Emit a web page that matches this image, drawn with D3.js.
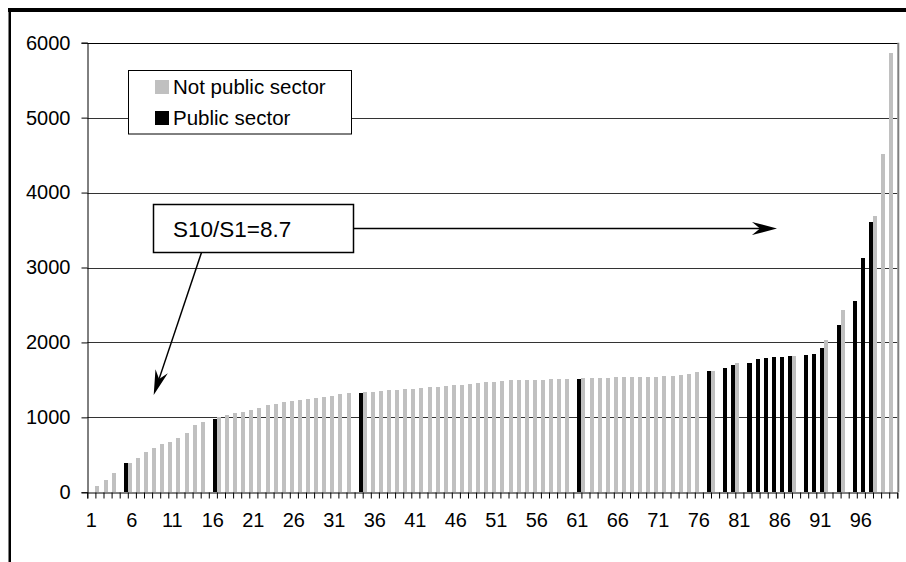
<!DOCTYPE html>
<html><head><meta charset="utf-8">
<script src="https://cdn.jsdelivr.net/npm/d3@7"></script>
<style>body{margin:0;background:#fff}svg{display:block}text{font-family:"Liberation Sans",Arial,Helvetica,sans-serif;fill:#000}</style>
</head><body><svg id="c" width="906" height="562"></svg>
<script>
// ---- data ----
const values = [
  0, 84, 164, 262, 391, 391, 458, 538, 591, 644,
  671, 724, 791, 898, 938, 978, 1000, 1031, 1062, 1076,
  1098, 1124, 1164, 1182, 1204, 1217, 1231, 1244, 1257, 1271,
  1288, 1311, 1324, 1324, 1333, 1337, 1351, 1364, 1364, 1377,
  1377, 1391, 1404, 1404, 1417, 1431, 1431, 1444, 1457, 1471,
  1471, 1484, 1498, 1498, 1498, 1498, 1505, 1511, 1511, 1511,
  1511, 1524, 1524, 1524, 1524, 1538, 1538, 1538, 1538, 1538,
  1538, 1551, 1551, 1564, 1577, 1604, 1618, 1618, 1658, 1698,
  1724, 1724, 1778, 1791, 1804, 1804, 1818, 1818, 1831, 1844,
  1924, 2036, 2231, 2431, 2551, 3124, 3608, 3688, 4511, 5861
];
const publicCats = [5, 16, 34, 61, 77, 79, 80, 82, 83, 84, 85, 86, 87, 89, 90, 91, 93, 95, 96, 97];
const categories = values.map((v, i) => i + 1);
const xTickLabels = [1, 6, 11, 16, 21, 26, 31, 36, 41, 46, 51, 56, 61, 66, 71, 76, 81, 86, 91, 96];
const yTicks = [0, 1000, 2000, 3000, 4000, 5000, 6000];
const seriesNames = ["Not public sector", "Public sector"];
const seriesColors = ["#c0c0c0", "#000000"];
const annotationText = "S10/S1=8.7";

const notPublic = values.map((v, i) => publicCats.includes(i + 1) ? null : v);
const publicSector = values.map((v, i) => publicCats.includes(i + 1) ? v : null);
const series = [notPublic, publicSector];

// ---- layout ----
const L = 87.3, R = 897.3, T = 42.7, B = 492.3;
const svg = d3.select("#c");

const x = d3.scaleBand().domain(categories).range([L, R]).padding(0);
const sub = d3.scaleBand().domain([0, 1]).range([0, x.bandwidth()]).padding(0);
const xb = d3.scaleLinear().domain([0, categories.length]).range([L, R]);
const y = d3.scaleLinear().domain([0, 6000]).range([B, T]);

// gridlines
svg.append("g").selectAll("line").data(yTicks.filter(d => d > 0 && d < 6000)).join("line")
  .attr("x1", L).attr("x2", R).attr("y1", d => Math.round(y(d)) + 0.5).attr("y2", d => Math.round(y(d)) + 0.5)
  .attr("stroke", "#333").attr("stroke-width", 1);

// bars
series.forEach((s, si) => {
  svg.append("g").selectAll("rect")
    .data(s.map((v, i) => ({ c: categories[i], v })).filter(d => d.v !== null && d.v > 0))
    .join("rect")
    .attr("x", d => x(d.c) + sub(si))
    .attr("width", sub.bandwidth())
    .attr("y", d => y(d.v))
    .attr("height", d => y(0) - y(d.v))
    .attr("fill", seriesColors[si])
    .attr("shape-rendering", "crispEdges");
});

// plot border (top + right)
svg.append("line").attr("x1", L).attr("x2", R + 1).attr("y1", Math.round(T) + 0.5).attr("y2", Math.round(T) + 0.5)
  .attr("stroke", "#000").attr("stroke-width", 1);
svg.append("line").attr("x1", R + 1).attr("x2", R + 1).attr("y1", T).attr("y2", B)
  .attr("stroke", "#808080").attr("stroke-width", 2);

// y axis
const yAxis = svg.append("g").attr("transform", `translate(${Math.round(L) + 0.5},0)`)
  .call(d3.axisLeft(y).tickValues(yTicks).tickSize(6).tickPadding(11).tickFormat(d3.format("d")));
yAxis.select(".domain").attr("stroke", "#000");
yAxis.selectAll(".tick line").attr("stroke", "#000");
yAxis.selectAll("text").attr("font-size", 20).attr("font-family", "Liberation Sans, Arial, sans-serif").attr("fill", "#000");

// x axis: ticks at category boundaries
const xAxisTicks = svg.append("g").attr("transform", `translate(0,${Math.round(B) + 0.5})`)
  .call(d3.axisBottom(xb).tickValues(d3.range(0, categories.length + 1)).tickSize(6).tickFormat(""));
xAxisTicks.select(".domain").attr("stroke", "#000");
xAxisTicks.selectAll(".tick line").attr("stroke", "#000");
// x labels at category centers
const xAxisLabels = svg.append("g").attr("transform", `translate(0,${Math.round(B)})`)
  .call(d3.axisBottom(x).tickValues(xTickLabels).tickSize(0).tickPadding(21));
xAxisLabels.select(".domain").remove();
xAxisLabels.selectAll("text").attr("font-size", 20).attr("font-family", "Liberation Sans, Arial, sans-serif").attr("fill", "#000");

// legend
const lg = svg.append("g");
lg.append("rect").attr("x", 128.5).attr("y", 70.5).attr("width", 223).attr("height", 63.5)
  .attr("fill", "#fff").attr("stroke", "#000").attr("stroke-width", 1);
seriesNames.forEach((n, i) => {
  const yy = 80 + i * 31;
  lg.append("rect").attr("x", 155).attr("y", yy).attr("width", 14).attr("height", 14).attr("fill", seriesColors[i]);
  lg.append("text").attr("x", 173).attr("y", yy + 14).attr("font-size", 20.5).text(n);
});

// annotation box
svg.append("rect").attr("x", 153.5).attr("y", 204.5).attr("width", 200).attr("height", 48)
  .attr("fill", "#fff").attr("stroke", "#000").attr("stroke-width", 1.5);
svg.append("text").attr("x", 173).attr("y", 237).attr("font-size", 22.5).text(annotationText);

// arrows
function arrow(x1, y1, x2, y2) {
  const ang = Math.atan2(y2 - y1, x2 - x1);
  const Lh = 25, W = 6.5, N = 17;
  const ux = Math.cos(ang), uy = Math.sin(ang), px = -uy, py = ux;
  const bx = x2 - ux * Lh, by = y2 - uy * Lh;
  const nx = x2 - ux * N, ny = y2 - uy * N;
  svg.append("line").attr("x1", x1).attr("y1", y1).attr("x2", nx).attr("y2", ny)
    .attr("stroke", "#000").attr("stroke-width", 1.5);
  svg.append("path")
    .attr("d", `M${x2},${y2}L${bx + px * W},${by + py * W}L${nx},${ny}L${bx - px * W},${by - py * W}Z`)
    .attr("fill", "#000");
}
arrow(354, 228.5, 777, 228.5);
arrow(201.5, 252.5, 153.7, 395);

// outer frame
svg.append("rect").attr("x", 8).attr("y", 8).attr("width", 900).attr("height", 4).attr("fill", "#000");
svg.append("rect").attr("x", 8.5).attr("y", 8).attr("width", 2.5).attr("height", 560).attr("fill", "#000");
</script></body></html>
